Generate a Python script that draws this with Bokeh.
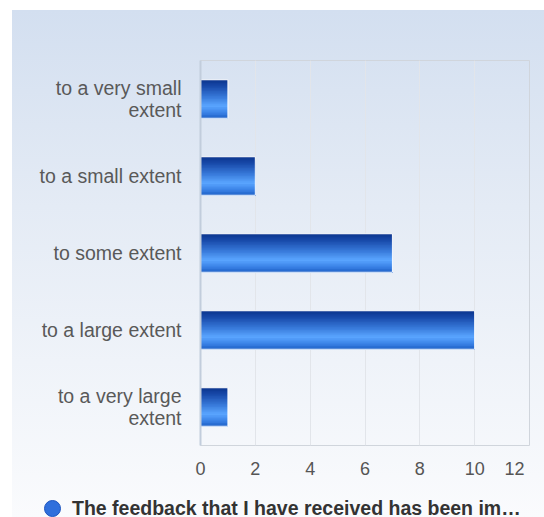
from bokeh.plotting import figure
from bokeh.layouts import column
from bokeh.models import ColumnDataSource, FactorRange, Range1d, Legend, LegendItem, FixedTicker
from bokeh.transform import dodge
from bokeh.embed import file_html
from bokeh.resources import INLINE

# ---- data ----
categories = ["to a very small\nextent", "to a small extent", "to some extent",
              "to a large extent", "to a very large\nextent"]
counts = [1, 2, 7, 10, 1]
x_ticks = [0, 2, 4, 6, 8, 10, 12]
series_name = "The feedback that I have received has been im\u2026"

# ---- style ----
FONT = "Liberation Sans"
grad_stops = [(0.0, (10, 52, 140)), (0.15, (22, 70, 166)), (0.45, (56, 122, 218)),
              (0.68, (90, 165, 255)), (0.85, (60, 132, 232)), (1.0, (30, 96, 198))]
BAR_H = 0.5
N_STRIPS = 24


def grad_color(t):
    for (t0, c0), (t1, c1) in zip(grad_stops[:-1], grad_stops[1:]):
        if t0 <= t <= t1:
            f = (t - t0) / (t1 - t0)
            c = [round(a + (b - a) * f) for a, b in zip(c0, c1)]
            return "#%02x%02x%02x" % tuple(c)
    return "#%02x%02x%02x" % grad_stops[-1][1]


source = ColumnDataSource(dict(cat=categories, count=counts))

p = figure(width=544, height=490, output_backend="svg", toolbar_location=None,
           y_range=FactorRange(factors=list(reversed(categories))),
           x_range=Range1d(0, 12),
           min_border_left=200, min_border_right=15, min_border_top=60, min_border_bottom=45)
p.background_fill_color = None
p.border_fill_color = None
p.outline_line_color = "#d0d5dc"

# bars: stacked strips (each from its own top down to the bar bottom) imitate the vertical gradient
h = BAR_H / N_STRIPS
for i in range(N_STRIPS):
    hh = BAR_H - i * h
    off = -BAR_H / 2 + hh / 2
    col = grad_color((i + 0.5) / N_STRIPS)
    p.hbar(y=dodge("cat", off, range=p.y_range), left=0, right="count", height=hh,
           source=source, fill_color=col, line_color=None)
p.hbar(y="cat", left=0, right="count", height=BAR_H, source=source,
       fill_color="#2d6ad6", fill_alpha=0, line_color="white", line_width=1)

# axes
p.xaxis.ticker = FixedTicker(ticks=x_ticks)
p.xaxis.axis_line_color = None
p.xaxis.major_tick_line_color = None
p.xaxis.minor_tick_line_color = None
p.xaxis.major_label_text_font = FONT
p.xaxis.major_label_text_font_size = "18px"
p.xaxis.major_label_text_color = "#555555"
p.xaxis.major_label_standoff = 7
p.xaxis.major_label_overrides = {12: "12\u00a0\u00a0\u00a0\u00a0"}

p.yaxis.axis_line_color = "#c2cddc"
p.yaxis.axis_line_width = 2
p.yaxis.major_tick_line_color = None
p.yaxis.minor_tick_line_color = None
p.yaxis.major_label_text_font = FONT
p.yaxis.major_label_text_font_size = "19.5px"
p.yaxis.major_label_text_color = "#595959"
p.yaxis.major_label_text_line_height = 1.0
p.yaxis.major_label_standoff = 13

p.xgrid.grid_line_color = "#e2e5ea"
p.xgrid.ticker = FixedTicker(ticks=x_ticks)
p.ygrid.grid_line_color = None

# legend strip below the chart
lf = figure(width=544, height=27, output_backend="svg", toolbar_location=None,
            x_axis_type=None, y_axis_type=None, x_range=Range1d(0, 1), y_range=Range1d(0, 1),
            min_border=0)
lf.frame_align = False
lf.background_fill_color = None
lf.border_fill_color = None
lf.outline_line_color = None
lf.grid.grid_line_color = None
# marker renderer used only for the legend swatch (its point lies outside the visible range)
leg_src = ColumnDataSource(dict(x=[5], y=[5]))
leg_r = lf.scatter(x="x", y="y", source=leg_src, size=16, marker="circle",
                   fill_color="#2f6fdc", line_color="#1d55c0")
legend = Legend(items=[LegendItem(label=series_name, renderers=[leg_r])],
                location=(32, -12), orientation="horizontal",
                label_text_font=FONT, label_text_font_size="19.5px", label_text_font_style="bold",
                label_text_color="#333333", border_line_color=None, background_fill_alpha=0,
                glyph_width=40, glyph_height=42, padding=0, margin=0, label_standoff=0)
lf.add_layout(legend, "center")

layout = column(p, lf, spacing=0)
layout.styles = {"background": "linear-gradient(to right, #ffffff 12px, transparent 12px), "
                               "linear-gradient(to bottom, #ffffff 10px, #d3dff0 10px, #e4ebf5 40%, #fafbfd 100%)"}

open("out.html", "w").write(file_html(layout, INLINE))
